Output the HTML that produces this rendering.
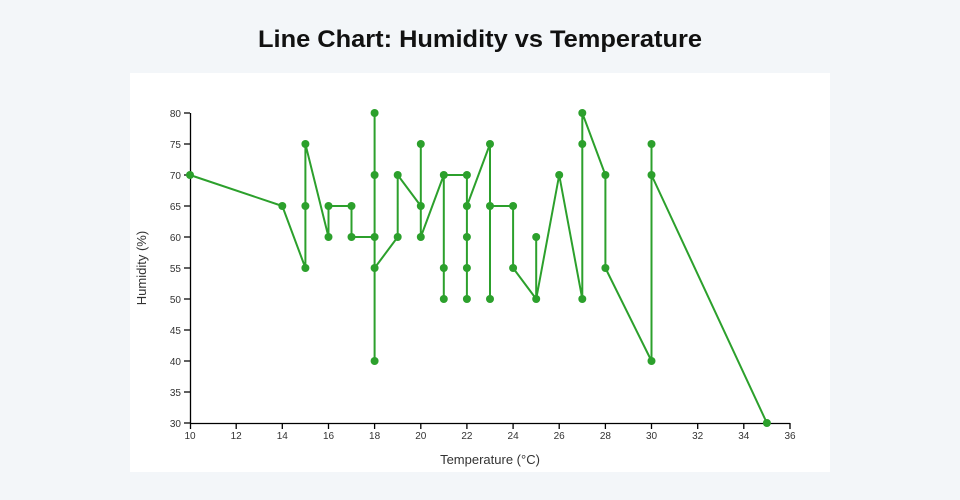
<!DOCTYPE html>
<html><head><meta charset="utf-8"><style>
html,body{margin:0;padding:0;background:#f3f6f9;}
svg{display:block;font-family:"Liberation Sans",sans-serif;}
</style></head><body>
<svg width="960" height="500" xmlns="http://www.w3.org/2000/svg">
<rect width="960" height="500" fill="#f3f6f9"/>
<text x="480" y="47" text-anchor="middle" font-size="24" font-weight="bold" fill="#111" textLength="444" lengthAdjust="spacingAndGlyphs">Line Chart: Humidity vs Temperature</text>
<rect x="130" y="73" width="700" height="399" fill="#fff"/>
<g stroke="#000" stroke-width="1.3" fill="none">
<line x1="190.5" y1="113" x2="190.5" y2="423.5"/>
<line x1="190" y1="423.5" x2="790" y2="423.5"/>
<path d="M184,113H190M184,144H190M184,175H190M184,206H190M184,237H190M184,268H190M184,299H190M184,330H190M184,361H190M184,392H190M184,423H190"/>
<path d="M190.5,423V429M236.2,423V429M282.3,423V429M328.5,423V429M374.6,423V429M420.8,423V429M466.9,423V429M513.1,423V429M559.2,423V429M605.4,423V429M651.5,423V429M697.7,423V429M743.8,423V429M790,423V429"/>
</g>
<g font-size="10" fill="#333" text-anchor="end">
<text x="181" y="117">80</text><text x="181" y="148">75</text><text x="181" y="179">70</text><text x="181" y="210">65</text><text x="181" y="241">60</text><text x="181" y="272">55</text><text x="181" y="303">50</text><text x="181" y="334">45</text><text x="181" y="365">40</text><text x="181" y="396">35</text><text x="181" y="427">30</text>
</g>
<g font-size="10" fill="#333" text-anchor="middle">
<text x="190" y="439">10</text><text x="236.2" y="439">12</text><text x="282.3" y="439">14</text><text x="328.5" y="439">16</text><text x="374.6" y="439">18</text><text x="420.8" y="439">20</text><text x="466.9" y="439">22</text><text x="513.1" y="439">24</text><text x="559.2" y="439">26</text><text x="605.4" y="439">28</text><text x="651.5" y="439">30</text><text x="697.7" y="439">32</text><text x="743.8" y="439">34</text><text x="790" y="439">36</text>
</g>
<text x="490" y="464" font-size="13" fill="#333" text-anchor="middle">Temperature (°C)</text>
<text transform="translate(146,268) rotate(-90)" font-size="13" fill="#333" text-anchor="middle">Humidity (%)</text>
<polyline fill="none" stroke="#2ca02c" stroke-width="2" stroke-linejoin="round" points="190,175 282.3,206 305.4,268 305.4,144 328.5,237 328.5,206 351.5,206 351.5,237 374.6,237 374.6,113 374.6,361 374.6,268 397.7,237 397.7,175 420.8,206 420.8,144 420.8,237 443.8,175 443.8,299 443.8,175 466.9,175 466.9,299 466.9,206 490,144 490,299 490,206 513.1,206 513.1,268 536.2,299 536.2,237 536.2,299 559.2,175 582.3,299 582.3,113 605.4,175 605.4,268 651.5,361 651.5,144 651.5,175 766.9,423"/>
<g fill="#2ca02c">
<circle cx="190" cy="175" r="4"/><circle cx="282.3" cy="206" r="4"/>
<circle cx="305.4" cy="268" r="4"/><circle cx="305.4" cy="206" r="4"/><circle cx="305.4" cy="144" r="4"/>
<circle cx="328.5" cy="237" r="4"/><circle cx="328.5" cy="206" r="4"/>
<circle cx="351.5" cy="206" r="4"/><circle cx="351.5" cy="237" r="4"/>
<circle cx="374.6" cy="237" r="4"/><circle cx="374.6" cy="113" r="4"/><circle cx="374.6" cy="175" r="4"/><circle cx="374.6" cy="361" r="4"/><circle cx="374.6" cy="268" r="4"/>
<circle cx="397.7" cy="237" r="4"/><circle cx="397.7" cy="175" r="4"/>
<circle cx="420.8" cy="206" r="4"/><circle cx="420.8" cy="144" r="4"/><circle cx="420.8" cy="237" r="4"/>
<circle cx="443.8" cy="175" r="4"/><circle cx="443.8" cy="299" r="4"/><circle cx="443.8" cy="268" r="4"/>
<circle cx="466.9" cy="175" r="4"/><circle cx="466.9" cy="299" r="4"/><circle cx="466.9" cy="268" r="4"/><circle cx="466.9" cy="237" r="4"/><circle cx="466.9" cy="206" r="4"/>
<circle cx="490" cy="144" r="4"/><circle cx="490" cy="299" r="4"/><circle cx="490" cy="206" r="4"/>
<circle cx="513.1" cy="206" r="4"/><circle cx="513.1" cy="268" r="4"/>
<circle cx="536.2" cy="299" r="4"/><circle cx="536.2" cy="237" r="4"/>
<circle cx="559.2" cy="175" r="4"/>
<circle cx="582.3" cy="299" r="4"/><circle cx="582.3" cy="113" r="4"/><circle cx="582.3" cy="144" r="4"/>
<circle cx="605.4" cy="175" r="4"/><circle cx="605.4" cy="268" r="4"/>
<circle cx="651.5" cy="361" r="4"/><circle cx="651.5" cy="144" r="4"/><circle cx="651.5" cy="175" r="4"/>
<circle cx="766.9" cy="423" r="4"/>
</g>
</svg>
</body></html>
